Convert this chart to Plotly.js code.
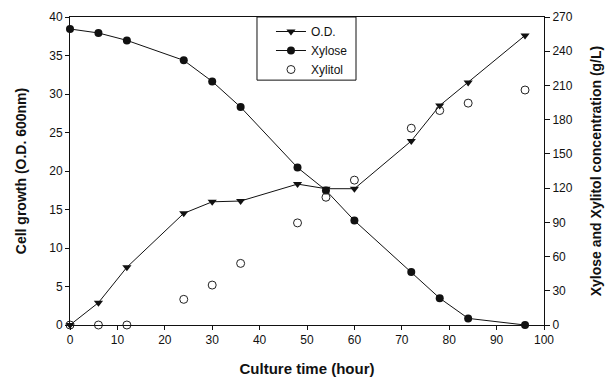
<!DOCTYPE html>
<html>
<head>
<meta charset="utf-8">
<script src="https://cdn.plot.ly/plotly-3.0.1.min.js"></script>
<style>html,body{margin:0;padding:0;background:#fff;}#chart{width:609px;height:380px;}</style>
</head>
<body>
<div id="chart"></div>
<script>
// Culture time (hour)
const timeHours = [0, 6, 12, 24, 30, 36, 48, 54, 60, 72, 78, 84, 96];
// Cell growth (O.D. 600nm) - left axis
const odValues = [0, 2.9, 7.5, 14.5, 16.0, 16.1, 18.3, 17.7, 17.7, 23.9, 28.5, 31.5, 37.6];
// Xylose concentration (g/L) - right axis
const xyloseValues = [259.5, 256, 249.5, 232, 213.5, 191, 138, 118, 91.5, 46.5, 23.5, 5.8, 0];
// Xylitol concentration (g/L) - right axis
const xylitolValues = [0, 0, 0, 22.5, 35, 54, 89.5, 112, 127, 172.5, 188, 194.5, 206];

const xTicks = [0, 10, 20, 30, 40, 50, 60, 70, 80, 90, 100];
const leftTicks = [0, 5, 10, 15, 20, 25, 30, 35, 40];
const rightTicks = [0, 30, 60, 90, 120, 150, 180, 210, 240, 270];

const font = 'Liberation Sans, Arial, sans-serif';

const traces = [
  {
    x: timeHours, y: odValues, name: 'O.D.', type: 'scatter', mode: 'lines+markers',
    line: {color: '#111', width: 1},
    marker: {symbol: 'triangle-down', size: 8, color: '#111'},
    cliponaxis: false
  },
  {
    x: timeHours, y: xyloseValues, name: 'Xylose', type: 'scatter', mode: 'lines+markers', yaxis: 'y2',
    line: {color: '#111', width: 1},
    marker: {symbol: 'circle', size: 8, color: '#111'},
    cliponaxis: false
  },
  {
    x: timeHours, y: xylitolValues, name: 'Xylitol', type: 'scatter', mode: 'markers', yaxis: 'y2',
    marker: {symbol: 'circle-open', size: 8, color: '#222', line: {width: 1}},
    cliponaxis: false
  }
];

const layout = {
  width: 609, height: 380,
  margin: {l: 70, r: 65, t: 17, b: 55},
  paper_bgcolor: '#fff', plot_bgcolor: '#fff',
  font: {family: font, size: 12, color: '#111'},
  showlegend: true,
  legend: {
    x: 0.424, y: 1.0, xanchor: 'left', yanchor: 'top',
    bgcolor: 'rgba(0,0,0,0)', borderwidth: 0,
    font: {family: font, size: 12, color: '#111'},
    itemwidth: 30
  },
  shapes: [
    {type: 'rect', xref: 'paper', yref: 'paper', x0: 0.3945, x1: 0.6034, y0: 0.795, y1: 1,
     line: {color: '#111', width: 1}, fillcolor: '#fff', layer: 'below'}
  ],
  xaxis: {
    range: [0, 100], tickvals: xTicks, ticktext: xTicks.map(String),
    showgrid: false, zeroline: false,
    showline: true, linecolor: '#111', linewidth: 1, mirror: true,
    ticks: 'outside', ticklen: 4, tickcolor: '#111',
    tickfont: {family: font, size: 12, color: '#111'},
    title: {text: 'Culture time (hour)', font: {family: font, size: 15, color: '#111', weight: 'bold'}, standoff: 17}
  },
  yaxis: {
    range: [0, 40], tickvals: leftTicks, ticktext: leftTicks.map(String),
    showgrid: false, zeroline: false,
    showline: true, linecolor: '#111', linewidth: 1,
    ticks: 'outside', ticklen: 4, tickcolor: '#111',
    tickfont: {family: font, size: 12, color: '#111'},
    title: {text: 'Cell growth (O.D. 600nm)', font: {family: font, size: 14, color: '#111', weight: 'bold'}, standoff: 19}
  },
  yaxis2: {
    range: [0, 270], tickvals: rightTicks, ticktext: rightTicks.map(String),
    overlaying: 'y', side: 'right',
    showgrid: false, zeroline: false,
    showline: true, linecolor: '#111', linewidth: 1,
    ticks: 'outside', ticklen: 5, tickcolor: '#111',
    tickfont: {family: font, size: 12, color: '#111'},
    title: {text: 'Xylose and Xylitol concentration (g/L)', font: {family: font, size: 14, color: '#111', weight: 'bold'}, standoff: 19}
  }
};

Plotly.newPlot('chart', traces, layout, {displayModeBar: false, staticPlot: true});
</script>
</body>
</html>
